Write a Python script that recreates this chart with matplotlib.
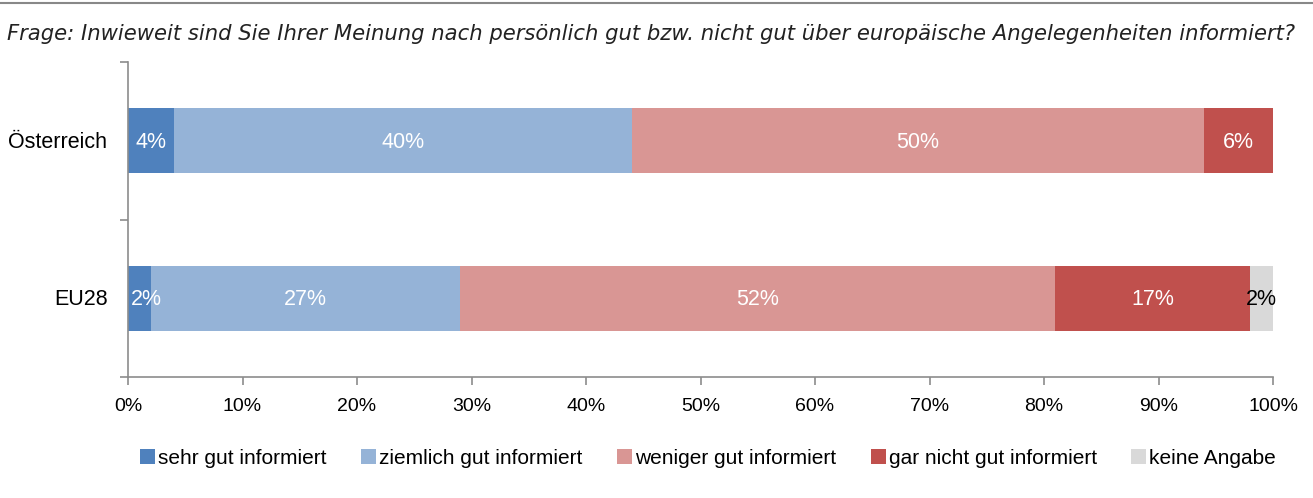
import numpy as np
import matplotlib
matplotlib.use("Agg")
import matplotlib.pyplot as plt
from matplotlib.patches import Patch
from matplotlib.lines import Line2D

countries = ["Österreich", "EU28"]
categories = ["sehr gut informiert", "ziemlich gut informiert", "weniger gut informiert",
              "gar nicht gut informiert", "keine Angabe"]
values = {
    "Österreich": [4, 40, 50, 6, 0],
    "EU28": [2, 27, 52, 17, 2],
}
colors = ["#4F81BD", "#95B3D7", "#D99694", "#C0504D", "#D9D9D9"]
label_colors = ["white", "white", "white", "white", "black"]
title = "Frage: Inwieweit sind Sie Ihrer Meinung nach persönlich gut bzw. nicht gut über europäische Angelegenheiten informiert?"

fig = plt.figure(figsize=(13.13, 4.98), dpi=100)
ax = fig.add_axes([128 / 1313, 1 - 377 / 498, (1273 - 128) / 1313, (377 - 62) / 498])

lab_font = ["Liberation Sans", "DejaVu Sans"]

for yi, c in enumerate(countries):
    left = 0
    for j, v in enumerate(values[c]):
        if v > 0:
            ax.barh(yi, v, left=left, height=0.41, color=colors[j], edgecolor="none")
            # narrow first segment: label starts at the axis like the original
            if j == 0 and v < 3:
                ax.text(left + 0.25, yi + 0.01, f"{v}%", ha="left", va="center",
                        color=label_colors[j], fontsize=15.5, family=lab_font)
            else:
                ax.text(left + v / 2, yi + 0.01, f"{v}%", ha="center", va="center",
                        color=label_colors[j], fontsize=15.5, family=lab_font)
        left += v

ax.set_xlim(0, 100)
ax.set_ylim(1.5, -0.5)
ax.set_xticks(np.arange(0, 101, 10))
ax.set_xticklabels([f"{t}%" for t in range(0, 101, 10)], family=lab_font, fontsize=14)
ax.set_yticks([-0.5, 0.5, 1.5])
ax.set_yticklabels([])
for yi, c in enumerate(countries):
    ax.text(-0.018, yi + 0.01, c, transform=ax.get_yaxis_transform(), ha="right", va="center",
            fontsize=15.5, family=lab_font)

for s in ["top", "right"]:
    ax.spines[s].set_visible(False)
for s in ["left", "bottom"]:
    ax.spines[s].set_color("#8C8C8C")
    ax.spines[s].set_linewidth(1.2)
ax.tick_params(axis="both", colors="#8C8C8C", length=6, width=1.2, labelcolor="black")
ax.tick_params(axis="x", pad=9)

fig.text(651.5 / 1313, 1 - 34 / 498, title, ha="center", va="center", fontsize=15.2,
         style="italic", family="DejaVu Sans", color="#222222")
fig.add_artist(Line2D([0, 1], [1 - 3 / 498, 1 - 3 / 498], color="#888888", lw=1.5))

handles = [Patch(facecolor=col, edgecolor="none") for col in colors]
fig.legend(handles, categories, loc="center", bbox_to_anchor=(708 / 1313, 1 - 458 / 498), ncol=5,
           frameon=False, prop={"family": lab_font, "size": 15}, handlelength=0.72,
           handleheight=0.72, handletextpad=0.15, columnspacing=1.65)

fig.savefig("out.png", dpi=100)
